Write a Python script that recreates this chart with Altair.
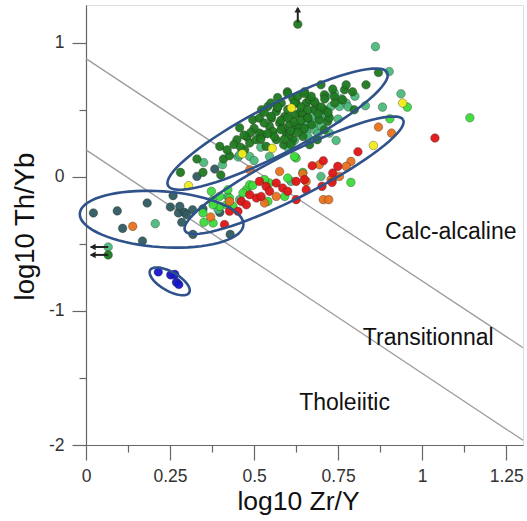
import math
import altair as alt
import pandas as pd

# ---------------- data ----------------
slate_x = [0.022, 0.093, 0.182, 0.259, 0.109, 0.168, 0.251, 0.275, 0.293, 0.285, 0.317,
           0.318, 0.429, 0.398, 0.279, 0.299, 0.348, 0.383, 0.330]
slate_y = [-0.27, -0.255, -0.196, -0.141, -0.385, -0.479, -0.226, -0.27, -0.266, -0.34, -0.246,
           -0.43, -0.43, -0.266, -0.221, -0.283, -0.24, 0.057, 0.002]

blue_x = [0.215, 0.252, 0.264, 0.269, 0.276]
blue_y = [-0.71, -0.732, -0.728, -0.787, -0.804]

medgreen_x = [0.350, 0.453, 0.487, 0.546, 0.655, 0.655, 0.861, 0.902, 0.937, 0.831, 0.882, 0.744,
              0.714, 0.739, 0.754, 0.774, 0.729, 0.694, 0.674, 0.704, 0.660, 0.680, 0.724, 0.665,
              0.699, 0.457, 0.406, 0.422, 0.393, 0.206, 0.066, 0.457, 0.610, 0.734,
              0.68, 0.70, 0.72, 0.75, 0.76, 0.78, 0.66, 0.69, 0.62, 0.60, 0.80, 0.52, 0.50]
medgreen_y = [0.106, 0.147, 0.151, 0.151, 0.400, 0.337, 0.970, 0.784, 0.618, 0.529, 0.519, 0.270,
              0.598, 0.623, 0.523, 0.549, 0.523, 0.499, 0.449, 0.449, 0.400, 0.350, 0.325, 0.276,
              0.002, -0.171, 0.089, -0.147, -0.246, -0.350, -0.524, 0.164, -0.035, -0.017,
              0.40, 0.38, 0.45, 0.43, 0.58, 0.52, 0.30, 0.32, 0.27, 0.22, 0.60, 0.22, 0.12]

darkgreen_x = [0.281, 0.330, 0.348, 0.401, 0.398, 0.409, 0.427, 0.449, 0.479, 0.487, 0.506, 0.496,
               0.516, 0.541, 0.566, 0.581, 0.615, 0.546, 0.576, 0.536, 0.566, 0.596, 0.625, 0.635,
               0.655, 0.615, 0.645, 0.516, 0.556, 0.591, 0.620, 0.605,
               0.870, 0.833, 0.793, 0.769, 0.734, 0.699, 0.774, 0.798, 0.763, 0.719, 0.625, 0.645,
               0.665, 0.680, 0.694, 0.671, 0.709, 0.522, 0.552, 0.585, 0.605, 0.635, 0.659, 0.682,
               0.709, 0.739, 0.688, 0.665, 0.588, 0.472, 0.457, 0.525, 0.570, 0.599, 0.650, 0.709,
               0.724,
               0.50, 0.53, 0.55, 0.57, 0.60, 0.62, 0.64, 0.66, 0.68, 0.70, 0.58, 0.60, 0.62, 0.64,
               0.66, 0.56, 0.58, 0.61, 0.63, 0.65, 0.52, 0.54, 0.49, 0.47, 0.57, 0.60, 0.63, 0.67,
               0.69, 0.72, 0.74, 0.71, 0.59, 0.61, 0.44, 0.42, 0.46, 0.53, 0.55, 0.65,
               0.630, 0.066]
darkgreen_y = [0.032, 0.132, 0.032, 0.013, 0.226, 0.132, 0.156, 0.276, 0.296, 0.251, 0.276, 0.424,
               0.437, 0.523, 0.486, 0.549, 0.586, 0.375, 0.400, 0.226, 0.276, 0.325, 0.375, 0.474,
               0.549, 0.276, 0.300, 0.325, 0.337, 0.449, 0.462, 0.387,
               0.777, 0.685, 0.633, 0.648, 0.653, 0.685, 0.685, 0.499, 0.573, 0.412, 0.549, 0.474,
               0.573, 0.499, 0.424, 0.387, 0.350, 0.499, 0.437, 0.365, 0.313, 0.365, 0.439, 0.544,
               0.611, 0.596, 0.276, 0.238, 0.238, 0.201, 0.365, 0.313, 0.514, 0.633, 0.633, 0.499,
               0.439,
               0.36, 0.40, 0.45, 0.52, 0.50, 0.55, 0.52, 0.50, 0.56, 0.52, 0.42, 0.44, 0.41, 0.42,
               0.44, 0.30, 0.35, 0.34, 0.33, 0.36, 0.28, 0.32, 0.33, 0.31, 0.59, 0.62, 0.60, 0.60,
               0.47, 0.48, 0.55, 0.58, 0.28, 0.24, 0.24, 0.20, 0.22, 0.48, 0.55, 0.62,
               1.137, -0.583]

brightgreen_x = [0.956, 0.904, 0.645, 0.788, 0.625, 0.373, 0.376, 0.398, 0.351, 0.378, 0.398, 0.422,
                 0.477, 0.487, 0.546, 0.531, 0.591, 0.541, 0.437, 0.418, 1.142, 0.620, 0.600, 0.378,
                 0.348, 0.467, 0.496, 0.427]
brightgreen_y = [0.519, 0.432, 0.032, -0.042, 0.139, -0.109, -0.176, -0.221, -0.340, -0.345, -0.147,
                 -0.097, -0.097, -0.060, -0.047, -0.022, -0.147, -0.184, -0.221, -0.209, 0.439, 0.151,
                 -0.010, -0.209, -0.270, -0.121, -0.065, -0.159]

orange_x = [0.870, 0.909, 0.706, 0.722, 0.788, 0.774, 0.694, 0.754, 0.655, 0.729, 0.487, 0.576,
            0.566, 0.531, 0.427, 0.371, 0.645, 0.139]
orange_y = [0.370, 0.325, -0.171, -0.171, 0.114, 0.077, 0.089, 0.002, -0.035, -0.022, 0.052, 0.039,
            -0.147, -0.196, -0.184, -0.300, 0.022, -0.370]

red_x = [0.809, 0.673, 0.706, 0.734, 0.749, 0.732, 0.702, 0.650, 0.655, 0.516, 0.536, 0.546, 0.566,
         0.585, 0.600, 0.625, 0.507, 0.487, 0.462, 0.477, 0.521, 0.625, 0.452, 0.427, 0.412, 1.038]
red_y = [0.186, 0.082, 0.119, 0.028, 0.077, -0.042, -0.072, -0.022, -0.097, -0.035, -0.072, -0.109,
         -0.047, -0.084, -0.109, -0.035, -0.159, -0.134, -0.184, -0.209, -0.147, -0.171, -0.258,
         -0.258, -0.357, 0.288]

yellow_x = [0.611, 0.465, 0.554, 0.305, 0.942, 0.855]
yellow_y = [0.512, 0.171, 0.211, -0.067, 0.549, 0.233]

group_names = ["slate", "blue", "medgreen", "darkgreen", "brightgreen", "orange", "red", "yellow"]
group_colors = ["#2f5b5e", "#1616cc", "#4cba7c", "#1f7a1f", "#3ddc3a", "#e8721e", "#e01616", "#f2ec1c"]

# boundary lines (endpoints)
bound_id = ["upper", "upper", "lower", "lower"]
bound_x = [0.0, 1.3, 0.0, 1.3]
bound_y = [0.88, -1.275, 0.20, -1.965]

# field labels
label_text = ["Calc-alcaline", "Transitionnal", "Tholeiitic"]
label_x = [1.085, 1.018, 0.769]
label_y = [-0.41, -1.20, -1.69]

# ellipses: centre, semi-axes (in x-axis units on screen), rotation (deg)
ell_cx = [0.570, 0.619, 0.225, 0.249]
ell_cy = [0.355, 0.011, -0.317, -0.780]
ell_a = [0.367, 0.364, 0.244, 0.067]
ell_b = [0.073, 0.066, 0.083, 0.028]
ell_ang = [27.3, 26.9, -4.0, -30.0]

# off-scale arrows
arrow_x = [0.630, 0.066, 0.066]
arrow_y = [1.15, -0.524, -0.583]
arrow_x2 = [0.630, 0.014, 0.014]
arrow_y2 = [1.255, -0.524, -0.583]
head_x = [0.630, 0.020, 0.020]
head_y = [1.245, -0.524, -0.583]
head_shape = ["triangle-up", "triangle-left", "triangle-left"]

# ---------------- chart ----------------
W, H = 437, 440
XD = [0.0, 1.3]
YD = [-2.0, 1.28]
aspect = (W / (XD[1] - XD[0])) / (H / (YD[1] - YD[0]))

rows = []
order = 0
for name, xs, ys in [("slate", slate_x, slate_y), ("blue", blue_x, blue_y),
                     ("medgreen", medgreen_x, medgreen_y), ("darkgreen", darkgreen_x, darkgreen_y),
                     ("brightgreen", brightgreen_x, brightgreen_y), ("orange", orange_x, orange_y),
                     ("red", red_x, red_y), ("yellow", yellow_x, yellow_y)]:
    for xv, yv in zip(xs, ys):
        rows.append({"x": xv, "y": yv, "grp": name, "o": order})
        order += 1
pts = pd.DataFrame(rows)

ell_rows = []
for i in range(len(ell_cx)):
    th = math.radians(ell_ang[i])
    for k in range(0, 73):
        t = 2 * math.pi * k / 72
        dxs = ell_a[i] * math.cos(t) * math.cos(th) - ell_b[i] * math.sin(t) * math.sin(th)
        dys = ell_a[i] * math.cos(t) * math.sin(th) + ell_b[i] * math.sin(t) * math.cos(th)
        ell_rows.append({"id": i, "t": k, "x": ell_cx[i] + dxs, "y": ell_cy[i] + dys * aspect})
ell = pd.DataFrame(ell_rows)

bounds = pd.DataFrame({"id": bound_id, "x": bound_x, "y": bound_y})
labels = pd.DataFrame({"x": label_x, "y": label_y, "text": label_text})
arrows = pd.DataFrame({"x": arrow_x, "y": arrow_y, "x2": arrow_x2, "y2": arrow_y2})
heads = pd.DataFrame({"x": head_x, "y": head_y, "shape": head_shape})

FONT = "Liberation Sans"
xscale = alt.Scale(domain=XD, nice=False, zero=False)
yscale = alt.Scale(domain=YD, nice=False, zero=False)

x_minor = "abs(datum.value*4 - round(datum.value*4)) > 0.01"
y_minor = "abs(datum.value - round(datum.value)) > 0.01"

xaxis = alt.Axis(
    values=[i * 0.125 for i in range(11)],
    title="log10 Zr/Y", grid=False,
    labelExpr=f"{x_minor} ? '' : format(datum.value, '~g')",
    tickSize={"condition": {"test": x_minor, "value": 7}, "value": 15},
    labelFlush=False, labelOverlap=False,
    labelFont=FONT, labelFontSize=17.5, labelColor="#333", labelPadding=7,
    titleFont=FONT, titleFontSize=26.5, titleFontWeight="normal", titleColor="#111",
    titleX=212, titleY=56, titleBaseline="middle",
    domainColor="#666", domainWidth=1.2, tickColor="#666", tickWidth=1.2,
)
yaxis = alt.Axis(
    values=[-2 + i * 0.5 for i in range(7)],
    title="log10 Th/Yb", grid=False,
    labelExpr=f"{y_minor} ? '' : (datum.value < 0 ? '-' + format(-datum.value, '~g') : format(datum.value, '~g'))",
    tickSize={"condition": {"test": y_minor, "value": 7}, "value": 14},
    labelFlush=False, labelOverlap=False,
    labelFont=FONT, labelFontSize=17.5, labelColor="#333", labelPadding=8,
    titleFont=FONT, titleFontSize=27.5, titleFontWeight="normal", titleColor="#111",
    titleX=-61, titleY=221, titleAngle=270, titleAlign="center", titleBaseline="middle",
    domainColor="#666", domainWidth=1.2, tickColor="#666", tickWidth=1.2,
)

X = alt.X("x:Q", scale=xscale, axis=xaxis)
Y = alt.Y("y:Q", scale=yscale, axis=yaxis)

lines = alt.Chart(bounds).mark_line(color="#9c9c9c", strokeWidth=1.3).encode(
    x=X, y=Y, detail="id:N")

points = alt.Chart(pts).mark_circle(size=74, opacity=0.95, stroke="#222", strokeWidth=0.7,
                                    strokeOpacity=0.5).encode(
    x=X, y=Y,
    color=alt.Color("grp:N", scale=alt.Scale(domain=group_names, range=group_colors), legend=None),
    order=alt.Order("o:Q"))

ellipses = alt.Chart(ell).mark_line(color="#2f528a", strokeWidth=2.6).encode(
    x=X, y=Y, detail="id:N", order="t:Q")

arrow_lines = alt.Chart(arrows).mark_rule(color="#222", strokeWidth=2).encode(
    x=X, y=Y, x2="x2:Q", y2="y2:Q")
arrow_heads = alt.Chart(heads).mark_point(filled=True, color="#222", size=45, opacity=1).encode(
    x=X, y=Y, shape=alt.Shape("shape:N", scale=None))

texts = alt.Chart(labels).mark_text(font=FONT, fontSize=23, color="#111").encode(
    x=X, y=Y, text="text:N")

chart = alt.layer(lines, points, ellipses, arrow_lines, arrow_heads, texts).properties(
    width=W, height=H,
    padding={"left": 86, "top": 5, "right": 4, "bottom": 76},
    autosize=alt.AutoSizeParams(type="none"),
).configure_view(stroke="#666", strokeWidth=1.2).configure(background="white")

chart.save("out.html", embed_options={"renderer": "svg", "actions": False})
